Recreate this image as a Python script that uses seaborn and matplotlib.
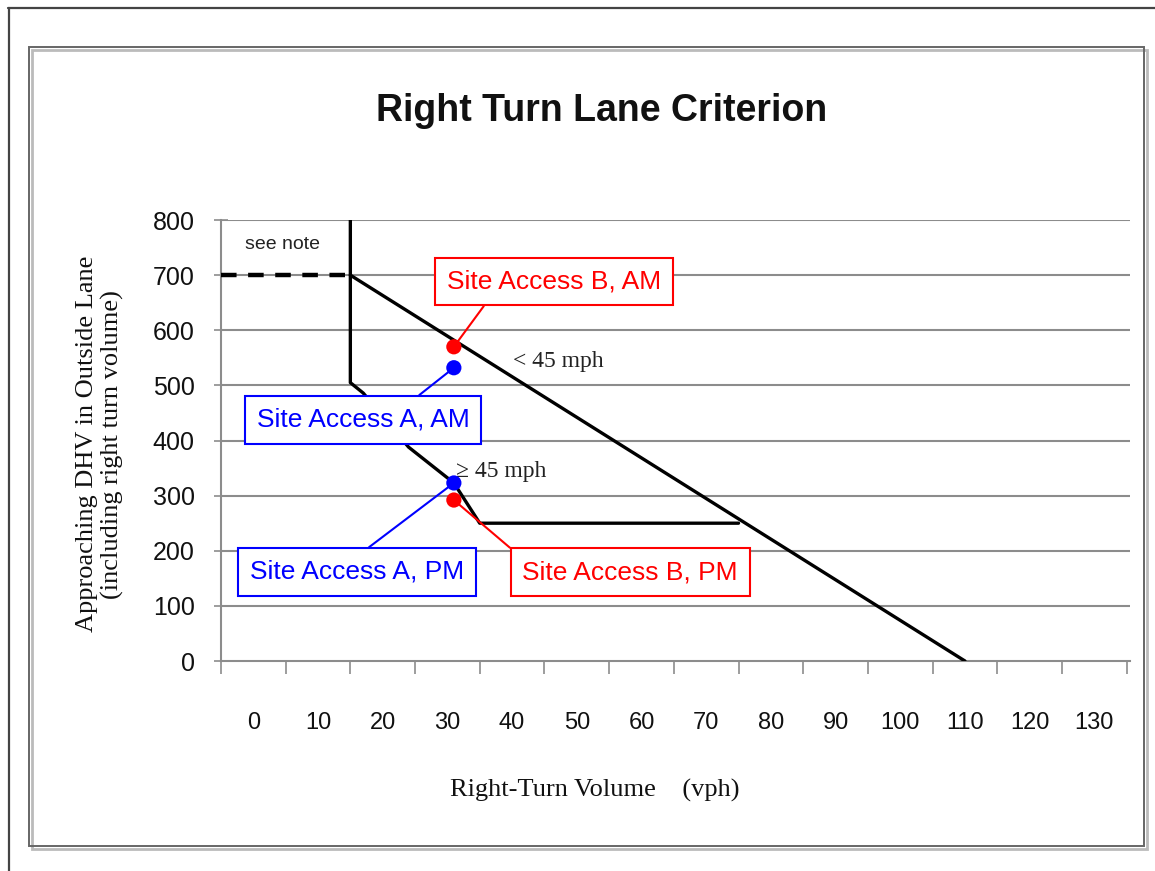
import numpy as np
import pandas as pd
import matplotlib
matplotlib.use("Agg")
import matplotlib.pyplot as plt
from matplotlib.patches import Rectangle
from matplotlib.lines import Line2D
import seaborn as sns

# ---- criterion curves (right-turn volume vs approaching DHV) ----
lt45_x = [15, 110]
lt45_y = [700, 0]
ge45_x = [15, 15, 17, 24, 31, 35, 75]
ge45_y = [800, 505, 486, 388, 323, 250, 250]
note_x = [-5, 15]
note_y = [700, 700]

# ---- site access observations ----
site_names = ["Site Access B, AM", "Site Access A, AM", "Site Access A, PM", "Site Access B, PM"]
site_x = [31, 31, 31, 31]
site_y = [570, 532, 323, 292]
site_colors = ["#ff0000", "#0000ff", "#0000ff", "#ff0000"]

x_labels = list(range(0, 140, 10))
y_ticks = list(range(0, 900, 100))

sns.set_theme(style="white")
plt.rcParams["font.family"] = ["Liberation Sans", "DejaVu Sans"]
plt.rcParams["text.color"] = "#111111"
plt.rcParams["xtick.color"] = "#111111"
plt.rcParams["ytick.color"] = "#111111"

fig = plt.figure(figsize=(11.55, 8.71), dpi=100)
ax = fig.add_axes([0.1913, 0.2411, 0.787, 0.5063])

# outer page frame
fig.add_artist(Line2D([0.007, 1.0], [0.9908, 0.9908], transform=fig.transFigure,
                      color="#444444", lw=1.6))
fig.add_artist(Line2D([0.0078, 0.0078], [0.0, 0.9908], transform=fig.transFigure,
                      color="#444444", lw=1.6))
# chart frame with soft shadow
fig.add_artist(Rectangle((0.0275, 0.0258), 0.9654, 0.9173, transform=fig.transFigure,
                         fill=False, edgecolor="#bbbbbb", lw=2.0))
fig.add_artist(Rectangle((0.0251, 0.0287), 0.9654, 0.9173, transform=fig.transFigure,
                         fill=False, edgecolor="#666666", lw=1.4))

ax.set_xlim(-5, 135.5)
ax.set_ylim(0, 800)

# horizontal gridlines
for yv in y_ticks[1:]:
    ax.axhline(yv, color="#8c8c8c", lw=1.5, zorder=1)

crit = pd.DataFrame({"x": ge45_x, "y": ge45_y})
sns.lineplot(data=crit, x="x", y="y", sort=False, estimator=None, color="black",
             lw=2.4, ax=ax, zorder=3)
crit2 = pd.DataFrame({"x": lt45_x, "y": lt45_y})
sns.lineplot(data=crit2, x="x", y="y", sort=False, estimator=None, color="black",
             lw=2.4, ax=ax, zorder=3)
note = pd.DataFrame({"x": note_x, "y": note_y})
sns.lineplot(data=note, x="x", y="y", sort=False, estimator=None, color="black", lw=3.2,
             ax=ax, zorder=3)
ax.lines[-1].set_dashes((3.5, 2.6))

sites = pd.DataFrame({"name": site_names, "x": site_x, "y": site_y})
sns.scatterplot(data=sites, x="x", y="y", hue="name", palette=dict(zip(site_names, site_colors)),
                s=120, edgecolor="none", legend=False, ax=ax, zorder=5)

# callout boxes with leader lines
offsets = [(72, 47), (-65.5, -37.4), (-70, -64), (127, -52)]
relpos = [(0.216, 0.0), (0.69, 1.0), (0.48, 1.0), (0.01, 1.0)]
for name, xv, yv, c, off, rp in zip(site_names, site_x, site_y, site_colors, offsets, relpos):
    ax.annotate(name, xy=(xv, yv), xytext=off, textcoords="offset points",
                ha="center", va="center", fontsize=19, color=c,
                bbox=dict(boxstyle="square,pad=0.45", fc="white", ec=c, lw=1.5),
                arrowprops=dict(arrowstyle="-", color=c, lw=1.5, relpos=rp,
                                shrinkA=0, shrinkB=0),
                zorder=6)

ax.text(4.5, 755, "see note", fontsize=14, ha="center", va="center", color="#222222")
ax.text(40.1, 544, "< 45 mph", fontsize=17, ha="left", va="center",
        family=["Liberation Serif", "DejaVu Serif"], color="#222222")
ax.text(31.3, 343, "\u2265 45 mph", fontsize=17, ha="left", va="center",
        family=["Liberation Serif", "DejaVu Serif"], color="#222222")

# axes styling
for s in ["top", "right"]:
    ax.spines[s].set_visible(False)
ax.spines["left"].set_color("#8c8c8c")
ax.spines["bottom"].set_color("#8c8c8c")
ax.spines["left"].set_linewidth(1.5)
ax.spines["bottom"].set_linewidth(1.5)

ax.set_yticks(y_ticks)
ax.set_yticklabels([str(v) for v in y_ticks])
ax.tick_params(axis="y", direction="inout", length=10, width=1.2, color="#8c8c8c",
               labelsize=18, pad=14, left=True, labelcolor="#111111")
ax.set_xticks(x_labels)
ax.set_xticklabels([str(v) for v in x_labels])
ax.set_xticks(np.arange(-5, 140, 10), minor=True)
ax.tick_params(axis="x", which="major", length=0, labelsize=17, pad=37, labelcolor="#111111")
ax.tick_params(axis="x", which="minor", direction="out", length=9, width=1.2,
               color="#8c8c8c", bottom=True)
ax.set_xlabel("")
ax.set_ylabel("")

fig.text(0.5206, 0.8726, "Right Turn Lane Criterion", fontsize=27, fontweight="bold",
         ha="center", va="center", color="#111111")
fig.text(0.0865, 0.49, "Approaching DHV in Outside Lane\n(including right turn volume)",
         rotation=90, fontsize=19, ha="center", va="center", multialignment="center",
         linespacing=1.12, family=["Liberation Serif", "DejaVu Serif"])
fig.text(0.515, 0.093, "Right-Turn Volume    (vph)", fontsize=19, ha="center", va="center",
         family=["Liberation Serif", "DejaVu Serif"])

fig.savefig("out.png", dpi=100, facecolor="white")
